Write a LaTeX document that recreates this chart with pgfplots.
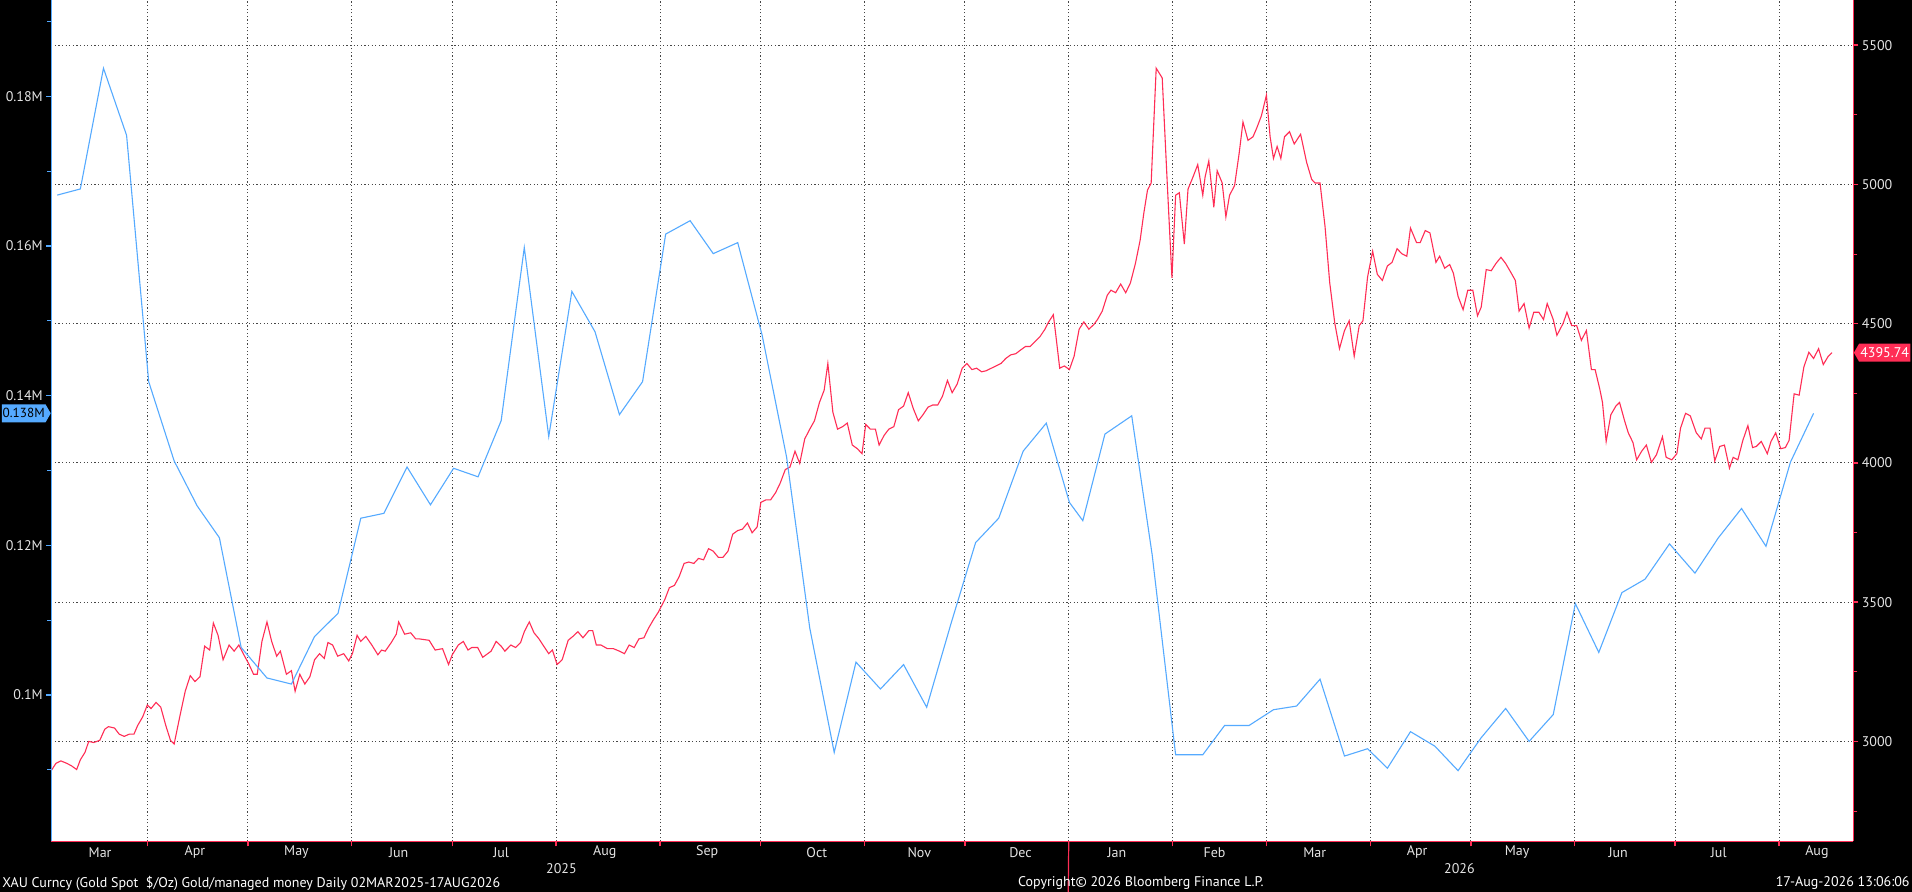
\documentclass[border=0pt]{standalone}
\usepackage{fontspec}
\setmainfont{PT Sans}
\usepackage{pgfplots}
\usepackage{pgfplotstable}
\pgfplotsset{compat=1.18}
\usetikzlibrary{shapes.symbols}
\definecolor{bbblue}{RGB}{85,170,255}
\definecolor{bbred}{RGB}{255,45,85}
\definecolor{bbgrid}{RGB}{70,70,70}
\definecolor{bblab}{RGB}{228,228,228}

% Gold spot price, USD/oz (x = days since 1 Mar 2025)
\pgfplotstableread{
day price
2.3 2895
3.7 2921
5.2 2930
7.0 2921
8.4 2912
9.9 2899
11.0 2934
12.4 2961
13.5 3000
15.0 2996
16.8 3004
18.3 3044
19.4 3053
21.2 3048
22.6 3026
24.1 3018
25.6 3026
27.0 3026
28.1 3057
29.6 3088
31.0 3131
32.1 3118
33.6 3140
35.0 3123
36.5 3057
37.9 3004
39.0 2991
40.8 3096
42.3 3180
43.8 3236
45.2 3215
46.7 3232
48.1 3342
49.6 3328
50.7 3425
52.1 3381
53.6 3293
55.4 3346
56.9 3324
58.3 3346
59.8 3311
61.2 3280
62.7 3241
63.8 3241
65.2 3359
66.7 3429
68.1 3359
69.6 3306
70.7 3324
72.5 3241
74.0 3254
75.1 3180
76.5 3241
78.0 3206
79.5 3232
80.9 3293
82.4 3315
83.8 3298
84.9 3355
86.3 3346
87.8 3306
89.6 3315
91.1 3289
92.2 3315
93.6 3381
94.7 3359
96.2 3377
98.0 3346
99.8 3311
100.9 3328
102.0 3324
103.8 3355
105.3 3385
106.0 3429
107.8 3385
109.6 3390
111.1 3368
112.2 3368
115.1 3363
116.9 3328
119.1 3333
120.9 3276
122.0 3311
123.8 3346
125.3 3359
126.7 3328
127.8 3337
129.6 3337
131.1 3302
133.6 3324
135.1 3359
136.6 3342
137.7 3324
139.5 3346
140.9 3337
142.4 3355
143.5 3394
145.0 3429
146.4 3390
147.9 3368
149.3 3342
150.8 3315
151.9 3328
153.3 3276
154.8 3293
156.6 3363
158.0 3377
159.5 3394
161.0 3372
162.8 3398
163.9 3398
165.0 3346
166.4 3346
168.3 3333
170.1 3333
171.9 3324
173.4 3315
174.8 3346
176.3 3337
177.7 3368
179.2 3372
180.6 3407
182.1 3438
183.5 3464
185.4 3508
186.8 3552
188.3 3560
189.7 3591
191.2 3639
192.6 3644
194.1 3639
195.5 3657
197.0 3652
198.5 3692
199.9 3683
201.4 3661
202.8 3661
204.3 3683
205.7 3744
207.2 3757
208.6 3762
210.1 3784
211.5 3749
213.0 3770
214.1 3858
215.6 3867
217.0 3867
218.5 3893
219.9 3928
221.4 3976
222.8 3985
224.3 4042
225.7 3998
227.2 4086
228.7 4121
230.1 4151
231.6 4217
233.0 4261
234.1 4357
235.6 4182
237.0 4121
238.5 4130
239.9 4143
241.4 4064
242.9 4051
244.3 4033
245.4 4138
246.8 4121
248.3 4121
249.4 4064
250.9 4099
252.3 4121
253.8 4130
255.2 4191
256.7 4204
258.1 4252
259.6 4195
261.1 4151
262.5 4173
264.0 4200
265.4 4208
266.9 4208
268.3 4239
269.8 4296
271.2 4252
272.7 4283
274.2 4340
275.6 4357
277.1 4335
278.5 4340
280.0 4327
281.4 4331
282.9 4340
284.3 4348
285.8 4357
287.2 4375
288.7 4388
290.2 4392
291.6 4405
293.1 4418
294.5 4418
296.0 4436
297.4 4453
298.9 4480
300.0 4506
301.4 4532
302.2 4453
303.3 4340
304.7 4348
306.2 4335
307.6 4383
309.1 4480
310.5 4506
312.0 4480
313.5 4497
314.6 4515
316.0 4545
317.5 4602
318.6 4620
320.0 4611
321.5 4642
323.0 4611
324.4 4646
325.9 4716
327.3 4799
328.4 4896
329.5 4979
330.6 5005
332.1 5417
333.9 5382
335.4 5005
336.8 4664
337.9 4961
339.0 4970
340.5 4786
341.6 4983
343.1 5027
344.5 5071
346.0 4961
346.7 5027
347.8 5084
349.3 4918
350.3 5049
351.8 5005
352.9 4883
354.0 4961
355.5 4996
356.9 5115
358.0 5224
359.5 5158
361.0 5171
362.1 5202
363.5 5246
365.0 5320
366.1 5171
367.1 5093
368.2 5136
369.3 5093
370.4 5171
371.9 5189
373.3 5145
375.2 5180
377.0 5079
378.5 5018
379.5 5005
381.0 5005
382.5 4848
383.9 4646
385.4 4502
386.8 4410
388.3 4475
389.7 4510
391.2 4383
392.7 4493
393.8 4510
395.2 4668
396.7 4760
398.1 4677
399.6 4655
401.1 4707
402.5 4720
404.0 4769
405.4 4751
406.9 4742
408.0 4843
409.8 4791
410.9 4791
412.4 4834
413.8 4826
415.6 4720
416.7 4742
418.2 4699
419.7 4712
420.8 4681
422.2 4598
423.7 4550
425.1 4620
426.6 4620
428.0 4528
429.1 4559
430.6 4694
432.1 4690
433.5 4716
435.0 4738
436.4 4716
437.9 4685
439.3 4655
440.4 4545
441.9 4572
443.4 4484
444.8 4541
446.3 4541
447.7 4515
448.8 4572
450.6 4515
451.7 4458
453.6 4502
454.7 4541
456.1 4493
457.6 4493
459.0 4440
460.5 4475
462.0 4335
463.1 4335
464.5 4265
465.3 4217
466.4 4077
467.8 4173
469.3 4204
470.4 4217
471.9 4151
473.0 4108
474.4 4073
475.5 4011
477.0 4042
478.4 4064
479.9 4002
481.4 4029
483.2 4094
484.3 4020
486.0 4011
487.5 4033
488.6 4125
490.1 4178
491.5 4169
493.3 4108
494.8 4086
495.9 4125
497.4 4125
498.8 4007
500.3 4059
501.7 4064
503.2 3981
504.3 4020
505.7 4011
507.2 4081
508.7 4134
510.1 4055
511.2 4059
512.7 4077
514.5 4033
515.6 4077
517.0 4108
518.5 4051
519.9 4055
521.0 4081
522.5 4248
524.0 4243
525.4 4344
526.9 4397
528.3 4375
529.8 4410
531.2 4353
532.7 4383
533.8 4395.74
}\gold

% Gold managed money net position (contracts), weekly
\pgfplotstableread{
day mm
4.1 166800
11.0 167620
17.9 183750
24.8 174790
31.4 141870
39.0 131280
45.9 125250
52.5 121020
59.0 106350
66.7 102280
74.0 101470
80.9 107820
87.9 110920
94.7 123630
101.6 124280
108.5 130470
115.5 125420
122.4 130300
129.7 129160
136.6 136660
143.5 159790
150.8 134540
157.7 153930
164.6 148550
171.9 137470
178.8 141870
185.7 161590
193.0 163380
199.9 158980
207.2 160450
214.5 148060
221.8 131770
228.7 108960
236.0 92340
242.5 104400
249.8 100810
256.7 104070
263.6 98370
270.9 109610
278.2 120370
285.1 123630
292.4 132590
299.3 136330
306.2 125740
310.2 123300
316.8 134870
324.8 137310
330.9 118740
337.9 92020
346.0 92020
352.5 95930
359.8 95930
367.1 98040
374.0 98530
381.0 102120
388.3 91850
395.2 92830
401.1 90220
408.0 95110
415.3 93160
422.2 89900
429.1 94300
436.4 98210
443.4 93810
450.6 97390
457.2 112220
464.2 105700
471.1 113690
478.0 115480
485.3 120200
492.9 116290
499.9 121020
506.8 124930
514.1 119880
521.4 131120
528.3 137640
}\mm

\begin{document}
\fontsize{7pt}{8pt}\selectfont%
\begin{tikzpicture}
\fill[black] (0,0) rectangle (956pt,446pt);
% ---------- right axis: gold price ----------
\begin{axis}[
  at={(25.6pt,25.3pt)}, anchor=south west,
  scale only axis, width=901.1pt, height=420.7pt,
  xmin=2.3, xmax=540.2, ymin=2641, ymax=5662,
  clip=false,
  axis background/.style={fill=white},
  axis x line*=bottom, axis y line*=right,
  axis line style={bbred, line width=0.6pt, -},
  every outer x axis line/.append style={-},
  every outer y axis line/.append style={-},
  xtick={31,61,92,122,153,184,214,245,275,306,337,365,396,426,457,487,518},
  xticklabels={},
  extra x ticks={16.9,45.2,75.5,106,136.6,167.5,198.1,230.8,261.4,291.6,320.4,349.5,379.4,410,439.8,470,500,529.3},
  extra x tick labels={Mar,Apr,May,Jun,Jul,Aug,Sep,Oct,Nov,Dec,Jan,Feb,Mar,Apr,May,Jun,Jul,Aug},
  extra x tick style={grid=none, tick style={draw=none}},
  xticklabel style={text=bblab, inner sep=0pt, anchor=center, yshift=-2.9pt},
  ytick={3000,3500,4000,4500,5000,5500},
  yticklabels={3000,3500,4000,4500,5000,5500},
  minor ytick={2750,3250,3750,4250,4750,5250},
  yticklabel style={text=bblab, inner sep=0pt, anchor=west, xshift=1.5pt},
  xmajorgrids, ymajorgrids,
  major grid style={bbgrid, line width=0.45pt, dash pattern=on 0.6pt off 1.2pt},
  tick align=outside,
  major tick length=2.5pt, minor tick length=2pt,
  tick style={bbred, line width=0.7pt},
  minor tick style={line width=0.4pt},
]
\addplot[bbred, line width=0.55pt] table[x=day, y=price] {\gold};
\node[signal, signal to=west, signal pointer angle=120, fill=bbred, text=white,
      inner xsep=0.6pt, inner ysep=1pt, minimum height=9pt, anchor=west]
  at (axis cs:540.2,4395.74) {4395.74};
\draw[bbred, line width=0.6pt] (axis cs:306,2641) -- ++(0,-17pt);
\node[text=bblab, inner sep=0pt] at (axis cs:154.6,2641) [yshift=-13.4pt] {2025};
\node[text=bblab, inner sep=0pt] at (axis cs:422.6,2641) [yshift=-13.4pt] {2026};
\end{axis}
% ---------- left axis: managed money ----------
\begin{axis}[
  at={(25.6pt,25.3pt)}, anchor=south west,
  scale only axis, width=901.1pt, height=420.7pt,
  xmin=2.3, xmax=540.2, ymin=80448, ymax=192870,
  clip=false,
  axis x line=none, axis y line*=left,
  axis line style={bbblue, line width=0.6pt, -},
  every outer y axis line/.append style={-},
  ytick={100000,120000,140000,160000,180000},
  yticklabels={0.1M,0.12M,0.14M,0.16M,0.18M},
  minor ytick={90000,110000,130000,150000,170000,190000},
  yticklabel style={text=bblab, inner sep=0pt, anchor=east, xshift=-1.5pt},
  tick align=outside,
  major tick length=2.5pt, minor tick length=2pt,
  tick style={bbblue, line width=0.7pt},
  minor tick style={line width=0.4pt},
]
\addplot[bbblue, line width=0.55pt] table[x=day, y=mm] {\mm};
\node[signal, signal to=east, signal pointer angle=120, fill=bbblue, text=black,
      font=\fontsize{6.6pt}{8pt}\selectfont,
      inner xsep=0.4pt, inner ysep=1pt, minimum height=9pt, anchor=east]
  at (axis cs:2.3,137640) {0.138M};
\end{axis}
% ---------- footer ----------
\node[anchor=west, text=white, inner sep=0pt] at (1pt,4.3pt)
  {XAU Curncy (Gold Spot\ \ \$/Oz) Gold/managed money Daily 02MAR2025-17AUG2026};
\node[anchor=west, text=white, inner sep=0pt] at (508.9pt,4.3pt)
  {Copyright© 2026 Bloomberg Finance L.P.};
\node[anchor=east, text=white, inner sep=0pt] at (955pt,4.3pt)
  {17-Aug-2026 13:06:06};
\pgfresetboundingbox
\useasboundingbox (0,0) rectangle (956pt,446pt);
\end{tikzpicture}
\end{document}
